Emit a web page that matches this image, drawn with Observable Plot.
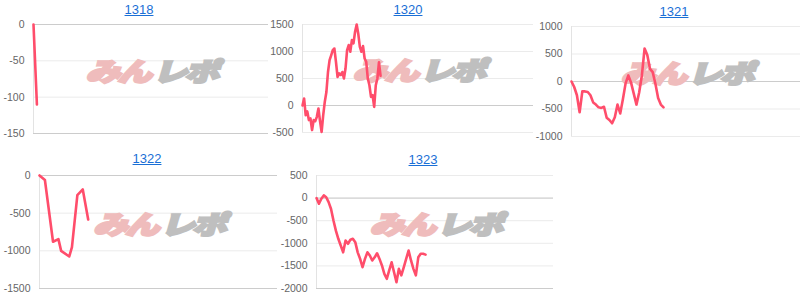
<!DOCTYPE html>
<html><head><meta charset="utf-8">
<script src="https://cdn.jsdelivr.net/npm/d3@7"></script>
<script src="https://cdn.jsdelivr.net/npm/@observablehq/plot@0.6"></script>
<style>
body{margin:0;background:#fff;}
#root{position:relative;width:800px;height:299px;overflow:hidden;font-family:Arial,"Liberation Sans",sans-serif;}
.title{position:absolute;font-size:13px;line-height:13px;color:#1a6fd6;text-decoration:underline;transform:translateX(-50%);white-space:nowrap;}
.panel{position:absolute;}
.panel svg{max-width:none;}
</style></head><body><div id="root"></div>
<script>
// ---- data ----
const titles = ["1318", "1320", "1321", "1322", "1323"];
const values1318 = [0, -110];
const values1320 = [0, 130, -180, -110, -270, -240, -455, -270, -290, -210, -55, -290, -490, -180, 70,
  250, 620, 840, 930, 1025, 1055, 810, 530, 595, 565, 620, 500, 685, 1025, 1120, 995, 1210, 1150, 1365,
  1500, 1330, 1085, 995, 1100, 870, 810, 500, 375, 160, 190, -25, 375, 500, 800, 550];
const values1321 = [0, -100, -250, -560, -180, -180, -190, -250, -380, -420, -470, -480, -460, -660, -700,
  -760, -650, -420, -580, -320, -30, 110, -20, -220, -420, -200, 110, 600, 480, 230, 170, -40, -300, -420, -470];
const days1322 = [0, 2, 5, 7, 8, 11, 12, 14, 16, 18];
const values1322 = [0, -60, -880, -845, -1000, -1075, -950, -260, -185, -585];
const values1323 = [0, -125, -15, 60, 20, -90, -240, -495, -720, -900, -1050, -1200, -940, -1010, -920, -900,
  -975, -1200, -1345, -1530, -1345, -1200, -1270, -1380, -1310, -1220, -1345, -1490, -1675, -1785, -1600,
  -1420, -1640, -1860, -1565, -1710, -1530, -1345, -1160, -1380, -1565, -1710, -1310, -1230, -1230, -1250];
const ticks1318 = [-150, -100, -50, 0];
const ticks1320 = [-500, 0, 500, 1000, 1500];
const ticks1321 = [-1000, -500, 0, 500, 1000];
const ticks1322 = [-1500, -1000, -500, 0];
const ticks1323 = [-2000, -1500, -1000, -500, 0, 500];
const watermark = ["みん", "レポ"];

// ---- layout ----
const panels = [
  {title: titles[0], values: values1318, ticks: ticks1318, left: 33, right: 268, top: 24, bottom: 133, xMax: 69, titleX: 139, titleTop: 3, darkBottom: true},
  {title: titles[1], values: values1320, ticks: ticks1320, left: 302, right: 533, top: 24, bottom: 132, xMax: 145, titleX: 408, titleTop: 3, darkBottom: false},
  {title: titles[2], values: values1321, ticks: ticks1321, left: 571, right: 800, top: 26, bottom: 136, xMax: 84.6, titleX: 674, titleTop: 5, darkBottom: false},
  {title: titles[3], values: values1322, days: days1322, ticks: ticks1322, left: 39, right: 277, top: 175, bottom: 288, xMax: 88, titleX: 147, titleTop: 152, darkBottom: true},
  {title: titles[4], values: values1323, ticks: ticks1323, left: 316, right: 553, top: 175, bottom: 288, xMax: 97.8, titleX: 423, titleTop: 153, darkBottom: true}
];

const root = document.getElementById("root");
for (const cfg of panels) {
  const t = document.createElement("div");
  t.className = "title";
  t.textContent = cfg.title;
  t.style.left = cfg.titleX + "px";
  t.style.top = cfg.titleTop + "px";
  root.appendChild(t);

  const ml = Math.min(40, cfg.left), mr = 2, mt = 8, mb = 8;
  const w = cfg.right - cfg.left, h = cfg.bottom - cfg.top;
  const data = cfg.values.map((v, i) => ({x: cfg.days ? cfg.days[i] : i, y: v}));
  const yDomain = [d3.min(cfg.ticks), d3.max(cfg.ticks)];
  const dark = cfg.darkBottom ? [0, yDomain[0]] : [0];
  const wmFont = {frameAnchor: "middle", dy: -7, fontSize: 27, fontWeight: 900, fontFamily: "'Noto Sans CJK JP', sans-serif", text: d => d, strokeWidth: 2.6, strokeLinejoin: "miter"};
  const plot = Plot.plot({
    width: w + ml + mr, height: h + mt + mb,
    marginLeft: ml, marginRight: mr, marginTop: mt, marginBottom: mb,
    style: {background: "transparent", fontSize: "10.5px", fontFamily: "Arial, 'Liberation Sans', sans-serif", color: "#666", overflow: "visible"},
    x: {domain: [0, cfg.xMax], axis: null},
    y: {domain: yDomain, ticks: cfg.ticks, tickFormat: d => String(d), tickSize: 0, tickPadding: 9, label: null},
    marks: [
      Plot.ruleY(cfg.ticks, {stroke: "#ebebeb", strokeWidth: 1}),
      Plot.ruleY(dark, {stroke: "#cccccc", strokeWidth: 1}),
      Plot.ruleX([0], {stroke: "#e3e3e3", strokeWidth: 1}),
      Plot.text([watermark[0]], {...wmFont, textAnchor: "end", dx: 0, fill: "#efbcbc", stroke: "#efbcbc"}),
      Plot.text([watermark[1]], {...wmFont, textAnchor: "start", dx: 3, fill: "#bfbfbf", stroke: "#bfbfbf"}),
      Plot.line(data, {x: "x", y: "y", stroke: "#ff4d6b", strokeWidth: 2.6, strokeLinejoin: "round", strokeLinecap: "round"})
    ]
  });
  // slant + widen the watermark like the logo
  const cx = ml + w / 2, cy = mt + h / 2;
  plot.querySelectorAll('g[aria-label="text"]').forEach(g => {
    g.querySelectorAll("text").forEach(el => el.setAttribute("letter-spacing", "-2"));
    const wrap = document.createElementNS("http://www.w3.org/2000/svg", "g");
    wrap.setAttribute("transform", `translate(${cx - 1},${cy}) skewX(-16) scale(1.27,0.94) translate(${-cx},${-cy})`);
    g.parentNode.insertBefore(wrap, g);
    wrap.appendChild(g);
  });
  const holder = document.createElement("div");
  holder.className = "panel";
  holder.style.left = (cfg.left - ml) + "px";
  holder.style.top = (cfg.top - mt) + "px";
  holder.appendChild(plot);
  root.appendChild(holder);
}
</script>
</body></html>
